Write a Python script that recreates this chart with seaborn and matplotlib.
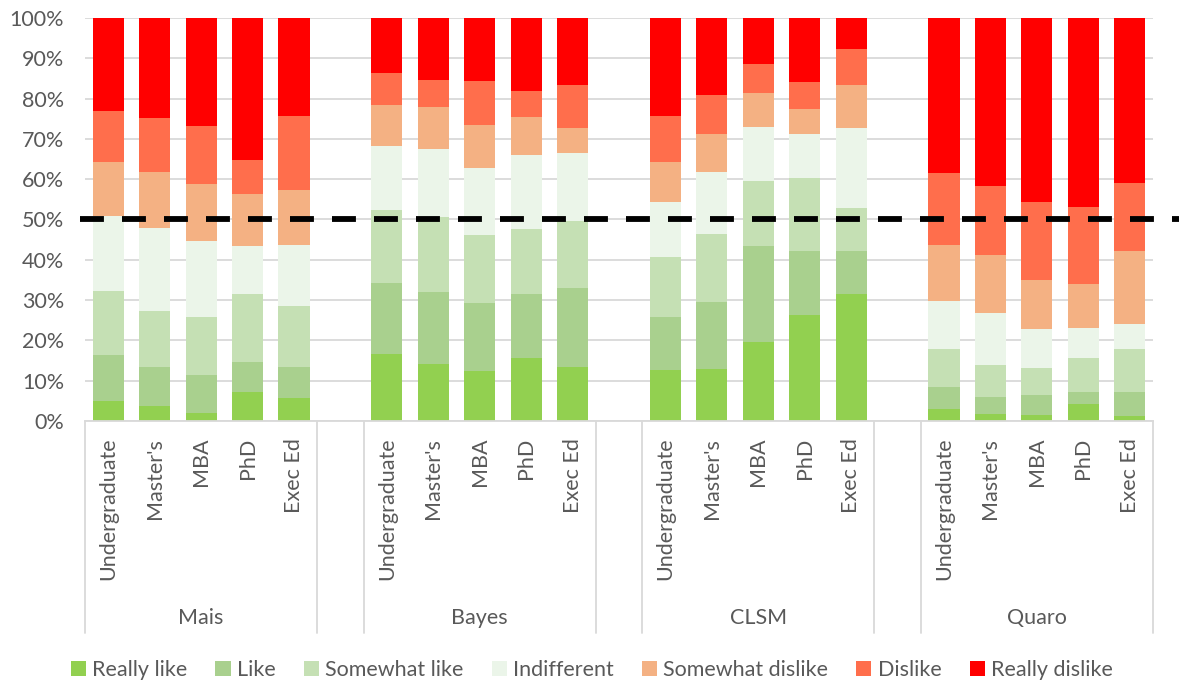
import matplotlib
matplotlib.use("Agg")
import matplotlib.pyplot as plt
import matplotlib.transforms as mtransforms
from matplotlib.patches import Patch
import numpy as np
import pandas as pd
import seaborn as sns

# Survey responses (% of respondents) by school and programme
schools = ["Mais", "Bayes", "CLSM", "Quaro"]
programs = ["Undergraduate", "Master's", "MBA", "PhD", "Exec Ed"]
levels = ["Really like", "Like", "Somewhat like", "Indifferent",
          "Somewhat dislike", "Dislike", "Really dislike"]
colors = ["#92D050", "#A9D08E", "#C5E0B4", "#EBF5E9",
          "#F4B183", "#FF6E4C", "#FF0000"]

# Each list: Mais (5 programmes), Bayes, CLSM, Quaro
really_like = [5.0, 3.7, 2.0, 7.1, 5.8,
               16.7, 14.1, 12.3, 15.7, 13.4,
               12.7, 13.0, 19.5, 26.4, 31.6,
               3.1, 1.8, 1.5, 4.1, 1.3]
like = [11.4, 9.7, 9.4, 7.6, 7.5,
        17.6, 18.0, 16.9, 15.8, 19.7,
        13.0, 16.6, 23.9, 15.9, 10.7,
        5.4, 4.2, 5.0, 3.0, 5.9]
somewhat_like = [15.8, 13.9, 14.4, 16.9, 15.2,
                 18.0, 18.5, 16.9, 16.2, 16.6,
                 15.1, 16.9, 16.2, 18.1, 10.5,
                 9.4, 7.9, 6.7, 8.6, 10.7]
indifferent = [18.7, 20.7, 18.9, 11.8, 15.2,
               15.9, 17.0, 16.7, 18.2, 16.8,
               13.5, 15.2, 13.4, 10.7, 19.8,
               11.9, 13.0, 9.6, 7.5, 6.2]
somewhat_dislike = [13.4, 13.7, 14.1, 12.9, 13.7,
                    10.1, 10.4, 10.7, 9.6, 6.2,
                    10.0, 9.6, 8.5, 6.4, 10.7,
                    13.9, 14.3, 12.2, 10.7, 18.2]
dislike = [12.7, 13.5, 14.4, 8.5, 18.3,
           8.1, 6.7, 10.8, 6.4, 10.6,
           11.3, 9.7, 7.2, 6.5, 9.1,
           17.9, 17.0, 19.4, 19.2, 16.8]
really_dislike = [23.0, 24.8, 26.8, 35.2, 24.3,
                  13.6, 15.3, 15.7, 18.1, 16.7,
                  24.4, 19.0, 11.3, 16.0, 7.6,
                  38.4, 41.8, 45.6, 46.9, 40.9]

series = [really_like, like, somewhat_like, indifferent,
          somewhat_dislike, dislike, really_dislike]

# Long table with one row per bar; slots carry a blank spacer between schools
rows = []
for s_i, school in enumerate(schools):
    for p_i, prog in enumerate(programs):
        k = s_i * len(programs) + p_i
        row = {"school": school, "program": prog, "slot": f"{school}|{prog}"}
        for lvl, vals in zip(levels, series):
            row[lvl] = vals[k]
        rows.append(row)
df = pd.DataFrame(rows)
df[levels] = df[levels].div(df[levels].sum(axis=1), axis=0) * 100
cum = df[levels].cumsum(axis=1)
for lvl in levels:
    df["cum_" + lvl] = cum[lvl]

slot_order = []
for s_i, school in enumerate(schools):
    slot_order += [f"{school}|{p}" for p in programs]
    if s_i < len(schools) - 1:
        slot_order.append(f"gap{s_i}")

sns.set_theme(style="white")
plt.rcParams["font.family"] = ["Lato", "DejaVu Sans"]
text_color = "#595959"
grid_color = "#D9D9D9"
fs = 15.5

fig = plt.figure(figsize=(11.79, 6.84), dpi=100)
ax = fig.add_axes([0.0721, 0.3845, 0.9058, 0.5892])

# Stacked bars: draw cumulative totals from the top level down
for lvl, col in reversed(list(zip(levels, colors))):
    sns.barplot(data=df, x="slot", y="cum_" + lvl, order=slot_order,
                color=col, saturation=1, width=0.67, errorbar=None,
                linewidth=0, ax=ax)

ax.set_xlim(-0.5, len(slot_order) - 0.5)
ax.set_ylim(0, 100)
ax.set_yticks(np.arange(0, 101, 10))
ax.set_yticklabels([f"{v}%" for v in range(0, 101, 10)])
ax.yaxis.grid(True, color=grid_color, linewidth=1.3)
ax.set_axisbelow(True)
ax.set_xlabel("")
ax.set_ylabel("")

tick_pos = [i for i, s in enumerate(slot_order) if not s.startswith("gap")]
tick_lab = [slot_order[i].split("|")[1] for i in tick_pos]
ax.set_xticks(tick_pos)
ax.set_xticklabels(tick_lab, rotation=90, va="top", ha="center")
ax.tick_params(axis="x", length=0, pad=12, labelsize=fs, colors=text_color)
ax.tick_params(axis="y", length=0, pad=15, labelsize=fs, colors=text_color)

for side in ["left", "right", "top"]:
    ax.spines[side].set_visible(False)
ax.spines["bottom"].set_color(grid_color)
ax.spines["bottom"].set_linewidth(1.3)

# 50% reference line
hline_tr = mtransforms.blended_transform_factory(ax.transAxes, ax.transData)
ax.plot([-0.005, 1.03], [50, 50], transform=hline_tr, color="black",
        linewidth=4.2, dashes=(4.1, 3.1), solid_capstyle="butt",
        dash_capstyle="butt", clip_on=False, zorder=5)

# School group separators and labels under the axis
sep_tr = mtransforms.blended_transform_factory(ax.transData, ax.transAxes)
bounds = []
for s_i in range(len(schools)):
    start = s_i * (len(programs) + 1)
    end = start + len(programs) - 1
    bounds += [start - 0.5, end + 0.5]
    ax.text((start + end) / 2, -0.49, schools[s_i], transform=sep_tr,
            ha="center", va="center", fontsize=fs, color=text_color)
for b in bounds:
    ax.plot([b, b], [0, -0.527], transform=sep_tr, color=grid_color,
            linewidth=1.3, clip_on=False)

handles = [Patch(facecolor=c, edgecolor="none", label=l)
           for l, c in zip(levels, colors)]
fig.legend(handles=handles, loc="center", bbox_to_anchor=(0.502, 0.021),
           ncol=7, frameon=False, fontsize=fs, labelcolor=text_color,
           handlelength=0.7, handleheight=0.7, handletextpad=0.3,
           columnspacing=1.3)

fig.savefig("out.png", dpi=100)
